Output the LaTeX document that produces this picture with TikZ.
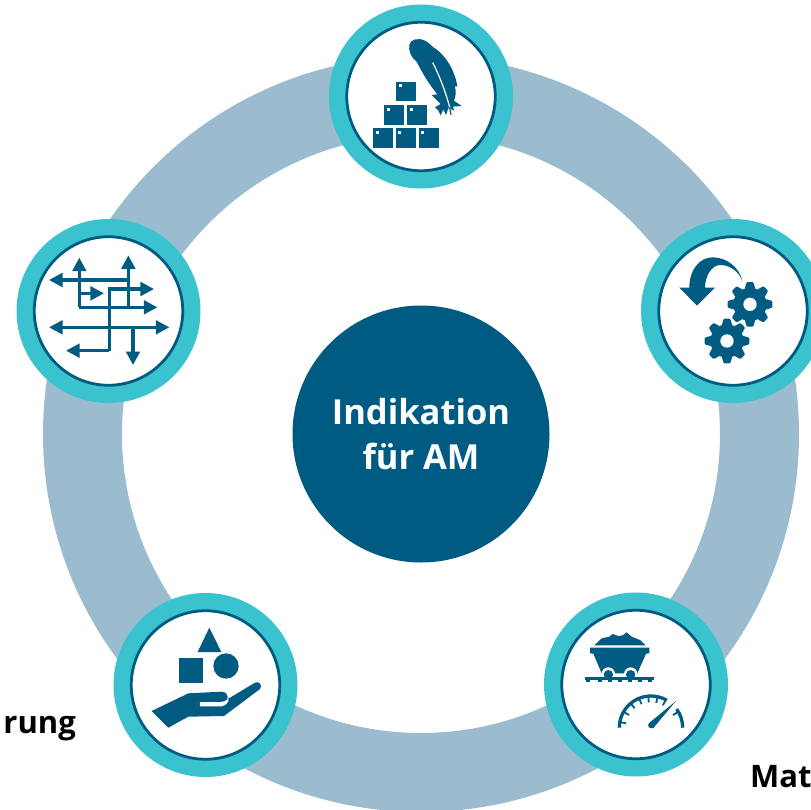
\documentclass[tikz,border=0pt]{standalone}
\usepackage{fontspec}
\setmainfont{Open Sans}
\usetikzlibrary{arrows.meta}
\definecolor{dk}{HTML}{005B82}
\definecolor{teal2}{HTML}{3BC2CF}
\definecolor{ringc}{HTML}{9BBCCE}
\newcommand{\gearicon}[2]{%
  \fill[dk] (#1,#2) circle[radius=50];
  \foreach \a in {0,45,...,315}{
    \fill[dk,rounded corners=1pt,rotate around={\a:(#1,#2)}]
      (#1-16,#2-46) -- (#1-10,#2-67) -- (#1+10,#2-67) -- (#1+16,#2-46) -- cycle;}
  \fill[white] (#1,#2) circle[radius=20];}
\tikzset{
  badge/.style={circle,fill=teal2,minimum size=184pt,inner sep=0pt,outer sep=0pt},
  badgein/.style={circle,fill=white,draw=dk,line width=2.8pt,minimum size=148.5pt,inner sep=0pt,outer sep=0pt},
  hub/.style={circle,fill=dk,minimum size=257pt,inner sep=0pt,text=white,align=center,font=\fontsize{34.5}{45}\selectfont\bfseries},
  lab/.style={inner sep=0pt,text=black,font=\fontsize{31}{36}\selectfont\bfseries},
  ico/.style={dk,line width=3.3pt},
  ar/.style={ico,-{Triangle[length=13.5pt,width=13.5pt]}},
  zoomed/.style={x=0.33333pt,y=-0.33333pt}
}
\begin{document}
\begin{tikzpicture}[x=1pt,y=-1pt]
\useasboundingbox (0,0) rectangle (811,809);
\clip (0,0) rectangle (811,809);
\fill[white] (0,0) rectangle (811,809);
\draw[ringc,line width=79pt] (421,434) circle[radius=338.5];
\node[hub] (hub) at (421,434) {Indikation\\für AM};
\node[lab,anchor=base east] (lab1) at (76,733) {rung};
\node[lab,anchor=base west] (lab2) at (750,787) {Mat};
\foreach \n/\px/\py in {top/421/96.5,right/733/311,left/108.5/311,bl/205.5/685,br/636/684.5}{
  \node[badge] (\n) at (\px,\py) {};
  \node[badgein] (\n in) at (\px,\py) {};
}
% icon 1
\begin{scope}[shift={(320,0)},zoomed]
  \foreach \x/\y in {228/245,193/315,262/315,159/384,227/384,296/384}{
    \fill[dk] (\x,\y) rectangle ++(60,59);
    \fill[white] (\x+8,\y+8) rectangle ++(9,9);}
  \fill[dk] (268,135) .. controls (270,118) and (295,112) .. (315,122)
    .. controls (330,130) and (335,140) .. (345,145)
    .. controls (375,165) and (405,210) .. (412,260)
    -- (405,258) .. controls (408,275) and (408,290) .. (402,302)
    -- (425,318) -- (398,320) -- (404,332) -- (385,324) -- (378,345) -- (370,328)
    -- (362,346) -- (354,330) -- (345,322) -- (362,312) -- (335,285) -- (352,283)
    .. controls (325,250) and (305,215) .. (290,185)
    .. controls (272,172) and (265,150) .. (268,135) -- cycle;
  \draw[white,line width=1.2pt] (338,188) .. controls (360,230) and (378,280) .. (390,325);
  \draw[dk,line width=1.2pt] (389,322) -- (393,345);
\end{scope}
% icon 2
\begin{scope}[shift={(631,210)},zoomed]
  \fill[dk] (335,215) .. controls (325,170) and (285,142) .. (245,142)
    .. controls (205,142) and (175,180) .. (175,233)
    -- (145,233) -- (198,287) -- (252,233) -- (222,233)
    .. controls (222,200) and (240,168) .. (265,165)
    .. controls (295,163) and (325,185) .. (335,215) -- cycle;
  \gearicon{357}{283}
  \gearicon{288}{393}
\end{scope}
% icon 3
\begin{scope}[shift={(10,210)},zoomed]
  \draw[ar] (355,210) -- (117,210);
  \draw[ar] (208,250) -- (208,143);
  \draw[ar] (355,292) -- (355,136);
  \draw[ar] (208,250) -- (282,250);
  \draw[ar] (208,292) -- (442,292);
  \draw[ico] (208,250) -- (208,292);
  \draw[ar] (298,422) -- (298,237) -- (432,237);
  \draw[ar] (298,352) -- (117,352);
  \draw[ar] (298,352) -- (478,352);
  \draw[ar] (298,422) -- (168,422);
  \draw[ar] (369,352) -- (369,465);
\end{scope}
% icon 4
\begin{scope}[shift={(0,590)},zoomed]
  \fill[dk] (628,113) -- (593,186) -- (664,186) -- cycle;
  \fill[dk] (537,204) rectangle (610,279);
  \fill[dk] (678,228) circle[radius=38];
  \fill[dk] (455,363) -- (565,310) -- (665,305)
    .. controls (680,305) and (685,318) .. (682,328)
    -- (765,278) .. controls (775,272) and (790,285) .. (780,297)
    -- (672,378) -- (565,380) -- (505,413) -- cycle;
  \fill[white] (600,336) -- (662,336) .. controls (672,336) and (680,332) .. (684,326)
    -- (686,332) .. controls (680,343) and (672,349) .. (665,349) -- (600,349) -- cycle;
\end{scope}
% icon 5
\begin{scope}[shift={(540,590)},zoomed]
  \fill[dk] (163,166) -- (185,145) -- (208,140) -- (218,132) -- (235,138) -- (248,136) -- (260,127)
    -- (275,140) -- (300,150) -- (317,166) -- cycle;
  \fill[dk] (150,173) -- (328,173) -- (328,190) -- (318,191) -- (292,250) -- (185,250) -- (160,191) -- (150,190) -- cycle;
  \foreach \x in {205,272}{
    \fill[white] (\x,252) circle[radius=20];
    \fill[dk] (\x,254) circle[radius=14];}
  \fill[dk] (135,262) rectangle (342,270);
  \foreach \x in {145,180,210,240,270,300,330}{\fill[dk] (\x-6,268) rectangle (\x+6,277);}
  \draw[dk,line width=3.3pt] (238,413) arc[start angle=-180,end angle=-60,radius=95];
  \draw[dk,line width=3.3pt] (428,413) arc[start angle=0,end angle=-36,radius=95];
  \foreach \a in {170,150,130,112,95,78,62,30}{
    \draw[dk,line width=1.8pt] (333,413) ++(-\a:95) -- ++(180-\a:19);}
  \fill[dk] (408,333) -- (340,414) .. controls (332,418) and (320,410) .. (326,400) -- cycle;
\end{scope}
\end{tikzpicture}
\end{document}
